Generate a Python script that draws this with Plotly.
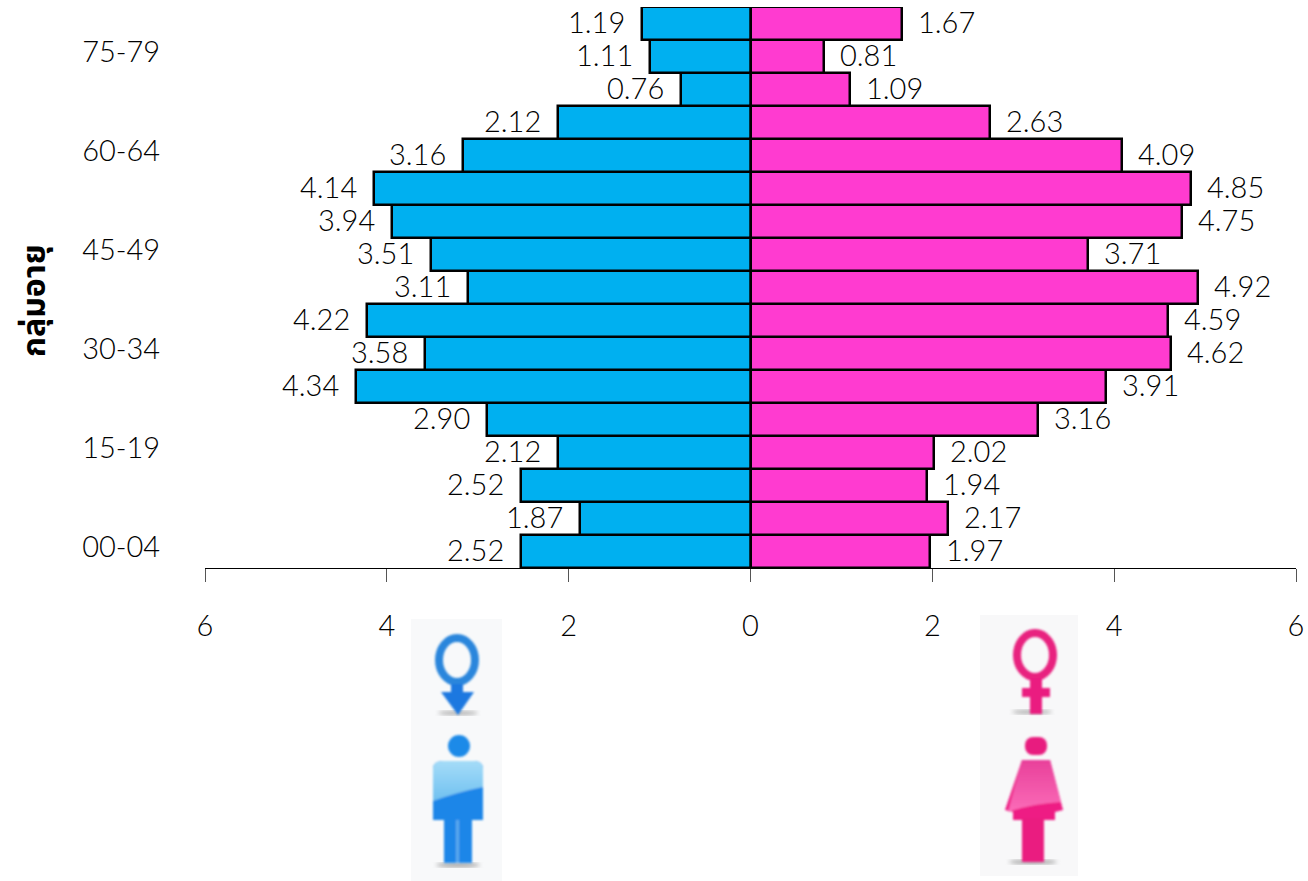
import base64
import plotly.graph_objects as go

age_groups = ["00-04", "05-09", "10-14", "15-19", "20-24", "25-29", "30-34", "35-39", "40-44",
              "45-49", "50-54", "55-59", "60-64", "65-69", "70-74", "75-79", "80-84"]
male = [2.52, 1.87, 2.52, 2.12, 2.90, 4.34, 3.58, 4.22, 3.11, 3.51, 3.94, 4.14, 3.16, 2.12, 0.76, 1.11, 1.19]
female = [1.97, 2.17, 1.94, 2.02, 3.16, 3.91, 4.62, 4.59, 4.92, 3.71, 4.75, 4.85, 4.09, 2.63, 1.09, 0.81, 1.67]
shown_ages = ["00-04", "15-19", "30-34", "45-49", "60-64", "75-79"]
x_ticks = [-6, -4, -2, 0, 2, 4, 6]
x_tick_labels = ["6", "4", "2", "0", "2", "4", "6"]
axis_title = "กลุ่มอายุ"

BLUE, PINK = "#00B0F0", "#FF3BD0"
FONT = "Lato, 'Liberation Sans', sans-serif"
TXT = dict(size=29, family=FONT, color="#000", weight=300)
W, H = 1308, 881
L, R, T, B = 205, 1296, 7, 568

fig = go.Figure()
fig.add_bar(y=age_groups, x=[-v for v in male], orientation="h", marker=dict(color=BLUE, line=dict(color="#000", width=2.5)))
fig.add_bar(y=age_groups, x=female, orientation="h", marker=dict(color=PINK, line=dict(color="#000", width=2.5)))

notes = []
for a, m, f in zip(age_groups, male, female):
    notes.append(dict(x=-m, y=a, text=f"{m:.2f}", xanchor="right", xshift=-15, yshift=2, showarrow=False, font=TXT))
    notes.append(dict(x=f, y=a, text=f"{f:.2f}", xanchor="left", xshift=14, yshift=2, showarrow=False, font=TXT))
notes.append(dict(xref="paper", yref="paper", x=(35 - L) / (R - L), y=(B - 301) / (B - T), text=axis_title, textangle=-90,
                  showarrow=False, xanchor="center", yanchor="middle",
                  font=dict(size=32, family="'Noto Sans Thai', 'Noto Sans', 'DejaVu Sans', sans-serif", color="#000", weight="bold")))


def uri(svg):
    return "data:image/svg+xml;base64," + base64.b64encode(svg.encode()).decode()


male_svg = '''<svg xmlns="http://www.w3.org/2000/svg" width="91" height="262" viewBox="411 619 91 262">
<defs><filter id="b"><feGaussianBlur stdDeviation="1.1"/></filter><filter id="s"><feGaussianBlur stdDeviation="2"/></filter>
<linearGradient id="g" x1="0" y1="0" x2="0" y2="1"><stop offset="0" stop-color="#a5dcf8"/><stop offset="1" stop-color="#6fc0f0"/></linearGradient></defs>
<rect x="411" y="619" width="91" height="262" fill="#f8f9fa"/>
<ellipse cx="458" cy="713" rx="20" ry="2" fill="#aaa" filter="url(#s)"/><ellipse cx="458" cy="865" rx="22" ry="2" fill="#999" filter="url(#s)"/>
<g filter="url(#b)"><ellipse cx="457" cy="660" rx="18" ry="22" fill="none" stroke="#2a86dc" stroke-width="8"/>
<path d="M451 684h12v8h11l-16 23-17-23h10z" fill="#1a78e0"/>
<circle cx="459" cy="746" r="11" fill="#1f8ae8"/>
<path d="M443 761h31q9 0 9 8v51h-11v43h-28v-43h-11v-51q0-8 10-8z" fill="#1f86e8"/>
<path d="M443 761h31q9 0 9 8v18q-25 5-50 14v-32q0-8 10-8z" fill="url(#g)"/>
<rect x="456" y="820" width="3" height="43" fill="#5aa8ee"/></g></svg>'''

female_svg = '''<svg xmlns="http://www.w3.org/2000/svg" width="98" height="261" viewBox="980 615 98 261">
<defs><filter id="b"><feGaussianBlur stdDeviation="1.1"/></filter><filter id="s"><feGaussianBlur stdDeviation="2"/></filter>
<linearGradient id="g" x1="0" y1="0" x2="0" y2="1"><stop offset="0" stop-color="#e8409a"/><stop offset="1" stop-color="#fb6cb8"/></linearGradient></defs>
<rect x="980" y="615" width="98" height="261" fill="#f8f8f9"/>
<ellipse cx="1032" cy="712" rx="20" ry="2" fill="#aaa" filter="url(#s)"/><ellipse cx="1033" cy="862" rx="24" ry="2" fill="#999" filter="url(#s)"/>
<g filter="url(#b)"><ellipse cx="1035" cy="655" rx="18" ry="22" fill="none" stroke="#e8207f" stroke-width="8"/>
<rect x="1030" y="678" width="12" height="36" fill="#ea1f80"/><rect x="1022" y="688" width="28" height="9" fill="#ea1f80"/>
<rect x="1025" y="737" width="22" height="18" rx="8" fill="#e81f7f"/>
<path d="M1022 760h28l13 50-8 2v8h-42v-8l-8-2z" fill="#ee1a84"/>
<path d="M1022 760h28l11 42q-30 2-53 10z" fill="url(#g)"/>
<rect x="1022" y="818" width="22" height="44" fill="#ea1a80"/></g></svg>'''


def image(svg, left, top, w, h):
    return dict(source=uri(svg), xref="paper", yref="paper", xanchor="left", yanchor="top",
                x=(left - L) / (R - L), y=(B - top) / (B - T), sizex=w / (R - L), sizey=h / (B - T),
                sizing="stretch", layer="above")


fig.update_layout(
    width=W, height=H, barmode="overlay", bargap=0, showlegend=False,
    margin=dict(l=L, r=W - R, t=T, b=H - B, pad=0),
    paper_bgcolor="white", plot_bgcolor="white",
    font=dict(family=FONT, size=29, color="#000"),
    annotations=notes,
    images=[image(male_svg, 411, 619, 91, 262), image(female_svg, 980, 615, 98, 261)],
    xaxis=dict(range=[-6, 6], tickvals=x_ticks, ticktext=x_tick_labels, showgrid=False, zeroline=False, automargin=False,
               showline=True, linecolor="#000", linewidth=1, ticks="outside", ticklen=13, tickcolor="#555", tickwidth=1,
               ticklabelstandoff=19, tickfont=TXT),
    yaxis=dict(type="category", categoryorder="array", categoryarray=age_groups, range=[-0.5, 16.5], automargin=False,
               tickmode="array", tickvals=shown_ages, ticktext=shown_ages, showgrid=False, zeroline=False,
               showline=False, ticks="outside", ticklen=38, tickcolor="rgba(0,0,0,0)",
               ticklabelshift=-5, tickfont=TXT),
)
fig.write_html("out.html", config=dict(displayModeBar=False),
               post_script="document.body.style.margin='0';document.body.style.overflow='hidden';")
